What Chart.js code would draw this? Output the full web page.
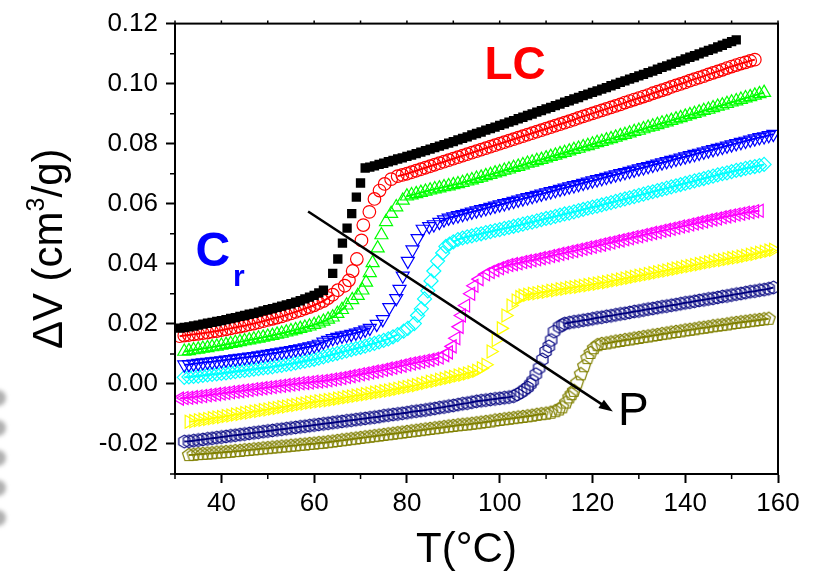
<!DOCTYPE html>
<html>
<head>
<meta charset="utf-8">
<script src="https://cdn.jsdelivr.net/npm/chart.js@4.4.0/dist/chart.umd.min.js"></script>
<style>
  html, body { margin: 0; padding: 0; background: #fff; }
  #wrap { width: 815px; height: 572px; }
</style>
</head>
<body>
<div id="wrap"><canvas id="chart" width="815" height="572"></canvas></div>
<script>
// Tick labels / axis ranges
const xTicks = [40, 60, 80, 100, 120, 140, 160];
const xMinor = [30, 50, 70, 90, 110, 130, 150];
const yTicks = [-0.02, 0.00, 0.02, 0.04, 0.06, 0.08, 0.10, 0.12];
const yMinor = [-0.03, -0.01, 0.01, 0.03, 0.05, 0.07, 0.09, 0.11];

// Temperature grid (deg C) shared by the slowly varying parts of all curves
const temps = [
  31,32,33,34,35,36,37,38,39,40, 41,42,43,44,45,46,47,48,49,50,
  51,52,53,54,55,56,57,58,59,60, 61,62,63,64,65,66,67,68,69,70,
  71,72,73,74,75,76,77,78,79,80, 81,82,83,84,85,86,87,88,89,90,
  91,92,93,94,95,96,97,98,99,100, 101,102,103,104,105,106,107,108,109,110,
  111,112,113,114,115,116,117,118,119,120, 121,122,123,124,125,126,127,128,129,130,
  131,132,133,134,135,136,137,138,139,140, 141,142,143,144,145,146,147,148,149,150,
  151,152,153,154,155,156,157,158,159,160
];
const n = null;

// Curve 1 - black filled squares
const blackV = [
  .0186,.0188,.0190,.0193,.0196,.0199,.0202,.0205,.0208,.0211,
  .0214,.0218,.0221,.0225,.0228,.0232,.0235,.0239,.0243,.0247,
  .0251,.0255,.0259,.0263,.0267,.0272,.0277,.0283,.0289,.0295,
  .0303,.0312,n,n,n,n,n,n,n,n,
  n,.0722,.0726,.0731,.0735,.0740,.0744,.0749,.0753,.0758,
  .0762,.0767,.0772,.0777,.0782,.0787,.0792,.0797,.0802,.0807,
  .0813,.0818,.0823,.0829,.0834,.0839,.0845,.0850,.0855,.0861,
  .0866,.0872,.0877,.0883,.0888,.0894,.0899,.0905,.0910,.0916,
  .0921,.0927,.0932,.0938,.0943,.0949,.0954,.0960,.0965,.0971,
  .0976,.0982,.0987,.0993,.0998,.1004,.1009,.1015,.1020,.1026,
  .1031,.1037,.1042,.1048,.1054,.1059,.1065,.1071,.1076,.1082,
  .1088,.1093,.1099,.1105,.1111,.1116,.1122,.1128,.1134,.1140,
  .1146,n,n,n,n,n,n,n,n,n];
const blackJumpT = [64, 65.1, 66.1, 67.1, 68.1, 69.1, 70, 71];
const blackJumpV = [.0368, .0416, .0469, .0519, .0567, .0622, .0669, .0719];

// Curve 2 - red open circles
const redV = [
  .0159,.0161,.0163,.0165,.0167,.0169,.0171,.0174,.0176,.0179,
  .0182,.0185,.0188,.0191,.0194,.0198,.0201,.0205,.0209,.0213,
  .0217,.0221,.0225,.0230,.0235,.0240,.0245,.0251,.0256,.0262,
  .0269,.0276,.0286,.0297,n,n,n,n,n,n,
  n,n,n,n,n,n,n,.0692,.0696,.0700,
  .0705,.0710,.0715,.0720,.0725,.0730,.0735,.0740,.0745,.0750,
  .0755,.0760,.0765,.0770,.0775,.0780,.0785,.0790,.0795,.0800,
  .0805,.0810,.0815,.0820,.0825,.0830,.0835,.0840,.0845,.0850,
  .0855,.0860,.0865,.0870,.0875,.0880,.0886,.0891,.0896,.0901,
  .0906,.0911,.0916,.0921,.0926,.0931,.0937,.0942,.0947,.0952,
  .0957,.0962,.0968,.0973,.0978,.0983,.0989,.0994,.0999,.1004,
  .1010,.1015,.1020,.1025,.1031,.1036,.1041,.1046,.1052,.1057,
  .1062,.1067,.1071,.1076,.1080,n,n,n,n,n];
const redJumpT = [65.1, 66.6, 67.5, 68.3, 69.2, 70.2, 70.6, 71.9, 73, 74.1, 75.2, 76.6];
const redJumpV = [.0312, .0327, .0345, .0376, .0416, .0478, .0529, .0573, .0616, .0644, .0666, .0682];

// Curve 3 - green open triangles (up)
const greenV = [
  n,.0108,.0110,.0113,.0115,.0118,.0120,.0123,.0125,.0128,
  .0131,.0134,.0137,.0140,.0143,.0146,.0149,.0152,.0155,.0158,
  .0161,.0165,.0168,.0172,.0176,.0180,.0184,.0188,.0192,.0197,
  .0202,.0208,.0215,.0222,.0234,.0247,.0262,n,n,n,
  n,n,n,n,n,n,n,n,n,.0625,
  .0629,.0633,.0637,.0641,.0645,.0649,.0652,.0656,.0659,.0663,
  .0666,.0670,.0675,.0679,.0684,.0688,.0693,.0697,.0702,.0706,
  .0711,.0715,.0720,.0724,.0729,.0734,.0738,.0743,.0747,.0752,
  .0757,.0761,.0766,.0770,.0775,.0780,.0784,.0789,.0793,.0798,
  .0803,.0807,.0812,.0816,.0821,.0826,.0830,.0835,.0840,.0844,
  .0849,.0854,.0858,.0863,.0868,.0872,.0877,.0882,.0886,.0891,
  .0896,.0900,.0905,.0910,.0914,.0919,.0924,.0928,.0933,.0938,
  .0942,.0947,.0952,.0956,.0961,.0966,.0970,n,n,n];
const greenJumpT = [68.2, 69.4, 70.4, 71.2, 72, 72.6, 73.7, 74.5, 75.5, 76.6, 77.7, 79.1];
const greenJumpV = [.0280, .0294, .0312, .0338, .0370, .0403, .0452, .0496, .0540, .0567, .0589, .0611];

// Curve 4 - blue open triangles (down)
const blueV = [
  n,.0064,.0065,.0067,.0069,.0071,.0073,.0074,.0076,.0078,
  .0080,.0082,.0084,.0086,.0088,.0090,.0092,.0094,.0097,.0099,
  .0102,.0104,.0107,.0109,.0112,.0115,.0118,.0121,.0124,.0128,
  .0133,.0140,.0146,.0152,.0156,.0160,.0163,.0166,.0170,.0174,
  .0180,.0186,n,n,n,n,n,n,n,n,
  n,n,n,n,n,n,.0539,.0547,.0553,.0557,
  .0561,.0565,.0569,.0573,.0577,.0581,.0585,.0589,.0593,.0597,
  .0601,.0605,.0609,.0613,.0617,.0621,.0625,.0629,.0633,.0637,
  .0641,.0645,.0649,.0653,.0657,.0661,.0665,.0669,.0673,.0677,
  .0681,.0685,.0689,.0693,.0697,.0701,.0705,.0709,.0713,.0717,
  .0721,.0725,.0729,.0733,.0737,.0741,.0745,.0749,.0753,.0757,
  .0761,.0765,.0769,.0773,.0777,.0781,.0785,.0789,.0793,.0797,
  .0801,.0805,.0809,.0813,.0817,.0821,.0824,.0828,.0832,n];
const blueJumpT = [73.5, 74.8, 76.2, 77.7, 78.4, 79.1, 80.2, 81.2, 82.3, 83.4, 84.8, 85.8];
const blueJumpV = [.0199, .0215, .0255, .0285, .0316, .0360, .0409, .0447, .0485, .0516, .0525, .0531];

// Curve 5 - cyan open diamonds
const cyanV = [
  n,.0022,.0023,.0025,.0026,.0028,.0030,.0032,.0033,.0035,
  .0037,.0039,.0041,.0043,.0045,.0047,.0049,.0051,.0053,.0055,
  .0057,.0060,.0062,.0065,.0067,.0070,.0073,.0076,.0079,.0082,
  .0086,.0090,.0094,.0098,.0102,.0106,.0110,.0114,.0118,.0122,
  .0126,.0131,.0135,.0140,.0145,.0150,.0157,.0164,n,n,
  n,n,n,n,n,n,n,n,n,.0473,
  .0481,.0486,.0490,.0493,.0497,.0500,.0504,.0507,.0511,.0514,
  .0518,.0521,.0525,.0528,.0532,.0536,.0539,.0543,.0547,.0551,
  .0554,.0558,.0562,.0566,.0569,.0573,.0577,.0581,.0585,.0589,
  .0592,.0596,.0600,.0604,.0608,.0612,.0616,.0620,.0624,.0628,
  .0632,.0636,.0640,.0644,.0648,.0652,.0656,.0660,.0664,.0668,
  .0672,.0676,.0680,.0684,.0688,.0692,.0696,.0700,.0703,.0707,
  .0711,.0714,.0718,.0721,.0724,.0727,.0731,n,n,n];
const cyanJumpT = [79.3, 80.2, 81.6, 82.3, 83.1, 83.8, 84.5, 85.2, 85.8, 86.6, 87.7, 88.4, 89.2];
const cyanJumpV = [.0176, .0185, .0201, .0228, .0250, .0283, .0310, .0343, .0376, .0409, .0436, .0458, .0466];

// Curve 6 - magenta open triangles (left)
const magentaV = [
  -.0049,-.0047,-.0046,-.0044,-.0042,-.0040,-.0038,-.0036,-.0034,-.0032,
  -.0030,-.0028,-.0026,-.0024,-.0022,-.0020,-.0018,-.0016,-.0014,-.0012,
  -.0010,-.0008,-.0006,-.0004,-.0002,.0000,.0002,.0003,.0005,.0007,
  .0008,.0010,.0012,.0015,.0017,.0020,.0023,.0026,.0029,.0032,
  .0035,.0038,.0041,.0044,.0047,.0051,.0054,.0058,.0061,.0065,
  .0068,.0071,.0074,.0077,.0080,.0084,.0088,n,n,n,
  n,n,n,n,n,n,n,n,.0379,.0385,
  .0391,.0396,.0399,.0402,.0406,.0409,.0412,.0415,.0419,.0422,
  .0426,.0429,.0433,.0436,.0440,.0443,.0447,.0450,.0454,.0457,
  .0461,.0464,.0468,.0471,.0475,.0478,.0482,.0485,.0489,.0492,
  .0496,.0499,.0503,.0506,.0510,.0513,.0517,.0520,.0524,.0527,
  .0531,.0534,.0538,.0541,.0545,.0548,.0551,.0555,.0558,.0561,
  .0564,.0567,.0570,.0572,.0575,.0577,n,n,n,n];
const magentaJumpT = [88.2, 89, 89.8, 90.6, 91.3, 91.8, 92.7, 93.8, 94.5, 95.6, 97, 98];
const magentaJumpV = [.0096, .0105, .0125, .0152, .0190, .0228, .0261, .0300, .0327, .0349, .0365, .0373];

// Curve 7 - yellow open triangles (right)
const yellowV = [
  n,n,-.0126,-.0124,-.0121,-.0119,-.0117,-.0114,-.0112,-.0110,
  -.0107,-.0105,-.0102,-.0100,-.0097,-.0095,-.0092,-.0090,-.0087,-.0085,
  -.0082,-.0080,-.0077,-.0075,-.0072,-.0070,-.0067,-.0065,-.0062,-.0060,
  -.0058,-.0056,-.0054,-.0052,-.0049,-.0047,-.0044,-.0042,-.0039,-.0037,
  -.0034,-.0032,-.0029,-.0027,-.0024,-.0022,-.0019,-.0016,-.0013,-.0010,
  -.0007,-.0004,.0000,.0003,.0007,.0010,.0014,.0017,.0021,.0024,
  .0028,.0031,.0035,.0039,.0044,n,n,n,n,n,
  n,n,n,n,.0294,.0297,.0300,.0302,.0305,.0307,
  .0310,.0312,.0315,.0317,.0320,.0322,.0324,.0327,.0329,.0332,
  .0334,.0337,.0339,.0342,.0345,.0348,.0351,.0354,.0357,.0360,
  .0363,.0366,.0369,.0372,.0375,.0378,.0381,.0384,.0387,.0390,
  .0393,.0396,.0399,.0402,.0405,.0408,.0411,.0413,.0416,.0419,
  .0421,.0424,.0427,.0430,.0433,.0437,.0440,.0444,.0447,n];
const yellowJumpT = [96, 97, 98.1, 99.2, 100.3, 101.3, 102.4, 103.5, 104.3];
const yellowJumpV = [.0052, .0064, .0108, .0146, .0185, .0228, .0261, .0278, .0289];

// Curve 8 - navy open hexagons
const navyV = [
  n,-.0192,-.0191,-.0189,-.0187,-.0185,-.0183,-.0181,-.0179,-.0177,
  -.0175,-.0173,-.0171,-.0169,-.0167,-.0165,-.0163,-.0161,-.0159,-.0157,
  -.0155,-.0153,-.0151,-.0149,-.0147,-.0145,-.0143,-.0141,-.0139,-.0137,
  -.0135,-.0133,-.0131,-.0129,-.0127,-.0125,-.0123,-.0121,-.0119,-.0117,
  -.0115,-.0113,-.0111,-.0109,-.0106,-.0104,-.0102,-.0100,-.0098,-.0096,
  -.0093,-.0091,-.0089,-.0087,-.0084,-.0082,-.0079,-.0077,-.0074,-.0072,
  -.0069,-.0066,-.0064,-.0061,-.0058,-.0056,-.0054,-.0052,-.0050,-.0048,
  -.0046,-.0044,-.0041,n,n,n,n,n,n,n,
  n,n,n,.0201,.0204,.0207,.0209,.0212,.0214,.0217,
  .0220,.0222,.0225,.0227,.0230,.0233,.0235,.0238,.0241,.0243,
  .0246,.0249,.0251,.0254,.0257,.0259,.0262,.0264,.0267,.0270,
  .0272,.0275,.0278,.0280,.0283,.0285,.0288,.0291,.0293,.0296,
  .0299,.0301,.0304,.0307,.0309,.0312,.0314,.0317,.0321,n];
const navyJumpT = [103.8, 104.6, 105.3, 106, 106.6, 107.1, 107.8, 108.5, 109.2, 109.9, 110.6, 111.1, 111.7, 112.8, 113.5];
const navyJumpV = [-.0035, -.0028, -.0020, -.0012, -.0001, .0010, .0032, .0053, .0081, .0108, .0125, .0146, .0174, .0190, .0196];

// Curve 9 - olive open pentagons
const oliveV = [
  n,n,-.0237,-.0236,-.0234,-.0233,-.0232,-.0231,-.0229,-.0228,
  -.0227,-.0226,-.0224,-.0223,-.0221,-.0220,-.0218,-.0217,-.0215,-.0214,
  -.0212,-.0211,-.0209,-.0208,-.0206,-.0205,-.0203,-.0202,-.0200,-.0199,
  -.0197,-.0196,-.0194,-.0192,-.0190,-.0188,-.0186,-.0184,-.0182,-.0180,
  -.0178,-.0176,-.0174,-.0172,-.0170,-.0168,-.0166,-.0164,-.0162,-.0160,
  -.0158,-.0156,-.0154,-.0152,-.0150,-.0148,-.0146,-.0144,-.0142,-.0140,
  -.0138,-.0136,-.0135,-.0133,-.0131,-.0129,-.0127,-.0125,-.0122,-.0120,
  -.0118,-.0116,-.0114,-.0112,-.0110,-.0108,-.0106,-.0103,-.0101,-.0099,
  n,n,n,n,n,n,n,n,n,n,
  n,.0133,.0135,.0138,.0141,.0143,.0146,.0148,.0151,.0153,
  .0156,.0158,.0161,.0163,.0166,.0168,.0171,.0173,.0175,.0178,
  .0180,.0182,.0185,.0187,.0189,.0192,.0194,.0196,.0198,.0201,
  .0203,.0205,.0207,.0209,.0211,.0213,.0215,.0217,n,n];
const oliveJumpT = [111, 112, 112.8, 113.5, 114.3, 115, 115.5, 116, 116.7, 117.5, 118.2, 118.9, 119.6, 120.3, 121.1];
const oliveJumpV = [-.0096, -.0091, -.0085, -.0078, -.0062, -.0045, -.0034, -.0023, .0004, .0032, .0059, .0086, .0103, .0119, .0129];

// end of the lower linear fit / start of the upper linear fit for each curve
const fitPreEnd   = [62, 64, 67, 72, 78, 87, 95, 103, 110];
const fitPostFrom = [72, 78, 80, 87, 90, 99, 105, 114, 122];

const FONT = '"Liberation Sans", Arial, sans-serif';

// open polygon markers that Chart.js has no built-in style for
function polyMarker(sides, r, color) {
  const c = document.createElement('canvas');
  const s = Math.ceil(2 * r + 4);
  c.width = c.height = s;
  const g = c.getContext('2d');
  g.strokeStyle = color;
  g.lineWidth = 1.2;
  g.beginPath();
  for (let k = 0; k < sides; k++) {
    const a = -Math.PI / 2 + k * 2 * Math.PI / sides;
    const px = s / 2 + r * Math.cos(a), py = s / 2 + r * Math.sin(a);
    if (k) g.lineTo(px, py); else g.moveTo(px, py);
  }
  g.closePath();
  g.stroke();
  return c;
}

function points(vals, jumpT, jumpV) {
  const pts = [];
  temps.forEach((t, i) => { if (vals[i] !== null) pts.push({ x: t, y: vals[i] }); });
  jumpT.forEach((t, i) => pts.push({ x: t, y: jumpV[i] }));
  return pts.sort((a, b) => a.x - b.x);
}

const series = [
  { pts: points(blackV, blackJumpT, blackJumpV),       color: '#000000', style: 'rect',     rot: 0,   r: 6.6, fill: true },
  { pts: points(redV, redJumpT, redJumpV),             color: '#FF0000', style: 'circle',   rot: 0,   r: 6.3 },
  { pts: points(greenV, greenJumpT, greenJumpV),       color: '#00FF00', style: 'triangle', rot: 0,   r: 7.5 },
  { pts: points(blueV, blueJumpT, blueJumpV),          color: '#0000FF', style: 'triangle', rot: 180, r: 7.5 },
  { pts: points(cyanV, cyanJumpT, cyanJumpV),          color: '#00FFFF', style: 'rectRot',  rot: 0,   r: 7 },
  { pts: points(magentaV, magentaJumpT, magentaJumpV), color: '#FF00FF', style: 'triangle', rot: 270, r: 7.5 },
  { pts: points(yellowV, yellowJumpT, yellowJumpV),    color: '#FFFF00', style: 'triangle', rot: 90,  r: 7.5 },
  { pts: points(navyV, navyJumpT, navyJumpV),          color: '#000080', style: polyMarker(6, 6.4, '#000080'), rot: 0, r: 6.4 },
  { pts: points(oliveV, oliveJumpT, oliveJumpV),       color: '#808000', style: polyMarker(5, 6.8, '#808000'), rot: 0, r: 6.4 }
];

const datasets = series.map((s, i) => ({
  data: s.pts,
  showLine: true,
  borderWidth: 2,
  borderColor: s.color,
  tension: 0,
  segment: {
    borderColor: ctx => (ctx.p1.parsed.x <= fitPreEnd[i] || ctx.p0.parsed.x >= fitPostFrom[i]) ? s.color : 'rgba(0,0,0,0)'
  },
  pointStyle: s.style,
  pointRotation: s.rot,
  pointRadius: s.r,
  pointBorderWidth: s.fill ? 0 : 1.2,
  pointBorderColor: s.color,
  pointBackgroundColor: s.fill ? s.color : 'rgba(0,0,0,0)'
}));

// frame, minor ticks, axis titles and annotations
const decor = {
  id: 'decor',
  afterDatasetsDraw(chart) {
    const { ctx, scales: { x, y } } = chart;
    ctx.save();
    // arrow across the transitions
    const x0 = x.getPixelForValue(58.7), y0 = y.getPixelForValue(0.0574);
    const x1 = x.getPixelForValue(124.4), y1 = y.getPixelForValue(-0.0092);
    const ang = Math.atan2(y1 - y0, x1 - x0);
    ctx.strokeStyle = '#000';
    ctx.lineWidth = 2.5;
    ctx.beginPath();
    ctx.moveTo(x0, y0);
    ctx.lineTo(x1 - 8 * Math.cos(ang), y1 - 8 * Math.sin(ang));
    ctx.stroke();
    ctx.fillStyle = '#000';
    ctx.beginPath();
    ctx.moveTo(x1, y1);
    ctx.lineTo(x1 - 14 * Math.cos(ang) + 5 * Math.sin(ang), y1 - 14 * Math.sin(ang) - 5 * Math.cos(ang));
    ctx.lineTo(x1 - 14 * Math.cos(ang) - 5 * Math.sin(ang), y1 - 14 * Math.sin(ang) + 5 * Math.cos(ang));
    ctx.closePath();
    ctx.fill();
    // labels
    ctx.textAlign = 'left';
    ctx.textBaseline = 'alphabetic';
    ctx.fillStyle = '#FF0000';
    ctx.font = 'bold 46px ' + FONT;
    ctx.fillText('LC', x.getPixelForValue(96.7), y.getPixelForValue(0.1016));
    ctx.fillStyle = '#0000FF';
    ctx.font = 'bold 48px ' + FONT;
    ctx.fillText('C', x.getPixelForValue(34.4), y.getPixelForValue(0.0392));
    ctx.font = 'bold 30px ' + FONT;
    ctx.fillText('r', x.getPixelForValue(42.5), y.getPixelForValue(0.0326));
    ctx.fillStyle = '#000';
    ctx.font = '46px ' + FONT;
    ctx.fillText('P', x.getPixelForValue(125.5), y.getPixelForValue(-0.0138));
    ctx.restore();
  },
  afterDraw(chart) {
    const { ctx, chartArea: a, scales: { x, y } } = chart;
    ctx.save();
    ctx.strokeStyle = '#000';
    ctx.lineWidth = 2;
    ctx.strokeRect(a.left, a.top, a.right - a.left, a.bottom - a.top);
    ctx.lineWidth = 1.5;
    ctx.beginPath();
    xMinor.forEach(v => {
      const px = x.getPixelForValue(v);
      ctx.moveTo(px, a.bottom); ctx.lineTo(px, a.bottom + 5);
    });
    xTicks.concat(xMinor).forEach(v => {
      const px = x.getPixelForValue(v);
      ctx.moveTo(px, a.top); ctx.lineTo(px, a.top - 3);
    });
    yMinor.forEach(v => {
      const py = y.getPixelForValue(v);
      ctx.moveTo(a.left, py); ctx.lineTo(a.left - 5, py);
    });
    ctx.stroke();

    // faint remains of a neighbouring panel at the left edge
    ctx.fillStyle = 'rgba(110,110,110,0.55)';
    ctx.filter = 'blur(2px)';
    [398, 428, 458, 488, 518].forEach(cy => {
      ctx.beginPath();
      ctx.arc(-2, cy, 8, 0, Math.PI * 2);
      ctx.fill();
    });
    ctx.filter = 'none';

    // axis titles
    ctx.fillStyle = '#000';
    ctx.textBaseline = 'alphabetic';
    ctx.font = '42px ' + FONT;
    ctx.textAlign = 'center';
    ctx.fillText('T(°C)', (a.left + a.right) / 2 - 10, 562);

    ctx.translate(62, (a.top + a.bottom) / 2);
    ctx.rotate(-Math.PI / 2);
    ctx.textAlign = 'left';
    const p1 = 'ΔV (cm', p3 = '/g)';
    const w1 = ctx.measureText(p1).width, w3 = ctx.measureText(p3).width;
    ctx.font = '25px ' + FONT;
    const w2 = ctx.measureText('3').width;
    const sx = -(w1 + w2 + w3) / 2;
    ctx.font = '42px ' + FONT;
    ctx.fillText(p1, sx, 0);
    ctx.font = '25px ' + FONT;
    ctx.fillText('3', sx + w1, -18);
    ctx.font = '42px ' + FONT;
    ctx.fillText(p3, sx + w1 + w2, 0);
    ctx.restore();
  }
};

new Chart(document.getElementById('chart'), {
  type: 'scatter',
  data: { datasets },
  options: {
    responsive: false,
    animation: false,
    devicePixelRatio: 1,
    layout: { padding: { top: 19, right: 37, left: 0, bottom: 0 } },
    plugins: { legend: { display: false }, tooltip: { enabled: false } },
    scales: {
      x: {
        type: 'linear', position: 'bottom', min: 30, max: 160,
        afterBuildTicks: s => { s.ticks = xTicks.map(v => ({ value: v })); },
        afterFit: s => { s.height = 98; },
        grid: { drawOnChartArea: false, drawTicks: true, tickLength: 9, tickWidth: 2, tickColor: '#000' },
        border: { display: true, color: '#000', width: 2 },
        ticks: { color: '#000', font: { family: FONT, size: 26 }, padding: 5, maxRotation: 0, callback: v => String(v) }
      },
      y: {
        type: 'linear', position: 'left', min: -0.03, max: 0.12,
        afterBuildTicks: s => { s.ticks = yTicks.map(v => ({ value: v })); },
        afterFit: s => { s.width = 175; },
        grid: { drawOnChartArea: false, drawTicks: true, tickLength: 9, tickWidth: 2, tickColor: '#000' },
        border: { display: true, color: '#000', width: 2 },
        ticks: { color: '#000', font: { family: FONT, size: 26 }, padding: 8, callback: v => v.toFixed(2) }
      }
    }
  },
  plugins: [decor]
});
</script>
</body>
</html>
